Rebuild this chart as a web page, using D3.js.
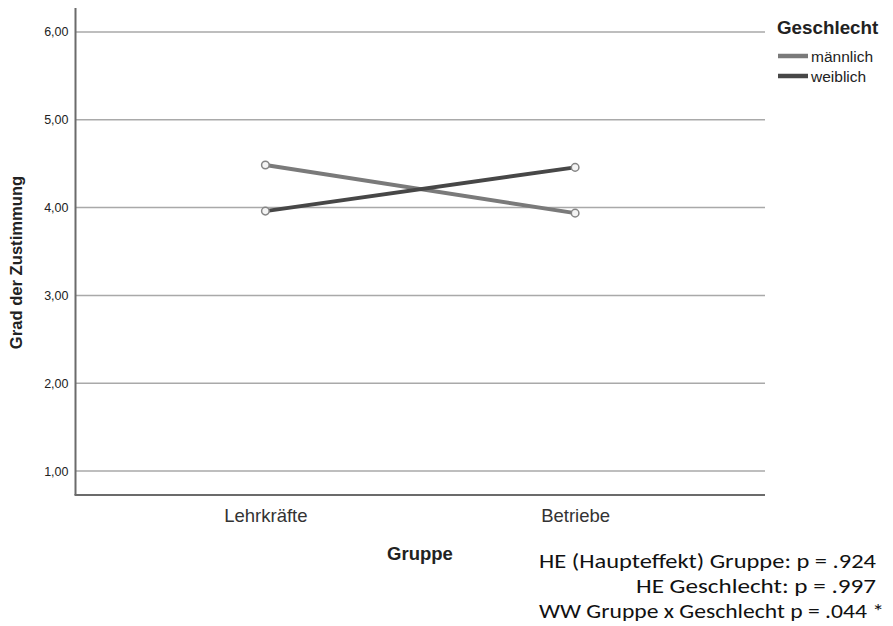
<!DOCTYPE html>
<html><head><meta charset="utf-8">
<script src="https://cdn.jsdelivr.net/npm/d3@7"></script>
<style>body{margin:0;background:#fff;} svg{display:block;}</style>
</head><body>
<svg id="chart" width="893" height="626"></svg>
<script>
const categories = ["Lehrkräfte", "Betriebe"];
const seriesNames = ["männlich", "weiblich"];
const maennlich = [4.485, 3.937];
const weiblich = [3.96, 4.458];
const yTicks = [1, 2, 3, 4, 5, 6];
const notes = ["HE (Haupteffekt) Gruppe: p = .924", "HE Geschlecht: p = .997", "WW Gruppe x Geschlecht p = .044 *"];

const series = [
  {name: seriesNames[0], values: maennlich, color: "#7a7a7a"},
  {name: seriesNames[1], values: weiblich, color: "#474747"}
];

const svg = d3.select("#chart");
const L = 75.5, R = 765, T = 8, B = 495;
const y = d3.scaleLinear().domain([0.727, 6.273]).range([B, T]);
const x = d3.scalePoint().domain(categories).range([L, R]).padding(0.613);
const font = "Arial, 'Liberation Sans', sans-serif";

// gridlines
svg.append("g").selectAll("line").data(yTicks).join("line")
  .attr("x1", L).attr("x2", R)
  .attr("y1", d => y(d)).attr("y2", d => y(d))
  .attr("stroke", "#a9a9a9").attr("stroke-width", 1.5);

// y axis via d3
const yAxis = d3.axisLeft(y).tickValues(yTicks).tickSize(0).tickPadding(7)
  .tickFormat(d => d3.format(".2f")(d).replace(".", ","));
const ga = svg.append("g").attr("transform", `translate(${L},0)`).call(yAxis);
ga.select(".domain").remove();
ga.selectAll("text").attr("font-family", font).attr("font-size", 12.5).attr("fill", "#222");

// x axis
const xAxis = d3.axisBottom(x).tickSize(0).tickPadding(14);
const gx = svg.append("g").attr("transform", `translate(0,${B})`).call(xAxis);
gx.select(".domain").remove();
gx.selectAll("text").attr("font-family", font).attr("font-size", 18.5).attr("fill", "#333");

// axis lines
svg.append("line").attr("x1", L).attr("x2", L).attr("y1", T).attr("y2", B)
  .attr("stroke", "#6b6b6b").attr("stroke-width", 2);
svg.append("line").attr("x1", L - 1).attr("x2", R).attr("y1", B).attr("y2", B)
  .attr("stroke", "#6b6b6b").attr("stroke-width", 2);

// lines
const line = d3.line().x((d, i) => x(categories[i])).y(d => y(d));
series.forEach(s => {
  svg.append("path").attr("d", line(s.values)).attr("fill", "none")
    .attr("stroke", s.color).attr("stroke-width", 4);
});
series.forEach(s => {
  svg.append("g").selectAll("circle").data(s.values).join("circle")
    .attr("cx", (d, i) => x(categories[i])).attr("cy", d => y(d)).attr("r", 3.8)
    .attr("fill", "#f4f4f4").attr("stroke", "#858585").attr("stroke-width", 1.5);
});

// axis titles
svg.append("text").attr("transform", `translate(22,262.5) rotate(-90)`)
  .attr("text-anchor", "middle").attr("font-family", font).attr("font-weight", "bold")
  .attr("font-size", 16.6).attr("fill", "#222").text("Grad der Zustimmung");
svg.append("text").attr("x", 420).attr("y", 560).attr("text-anchor", "middle")
  .attr("font-family", font).attr("font-weight", "bold").attr("font-size", 18.5)
  .attr("fill", "#222").text("Gruppe");

// legend
svg.append("text").attr("x", 777).attr("y", 34).attr("font-family", font)
  .attr("font-weight", "bold").attr("font-size", 18.8).attr("fill", "#222").text("Geschlecht");
const lg = svg.append("g").selectAll("g").data(series).join("g")
  .attr("transform", (d, i) => `translate(778,${56 + i * 20})`);
lg.append("line").attr("x1", 0).attr("x2", 30).attr("y1", 0).attr("y2", 0)
  .attr("stroke", d => d.color).attr("stroke-width", 4.5);
lg.append("text").attr("x", 33).attr("y", 5.5).attr("font-family", font)
  .attr("font-size", 15.5).attr("fill", "#222").text(d => d.name);

// notes
const nf = "Carlito, Calibri, 'Liberation Sans', sans-serif";
svg.append("text").attr("x", 539).attr("y", 568).attr("font-family", nf).attr("font-size", 20)
  .attr("fill", "#111").attr("textLength", 337).attr("lengthAdjust", "spacingAndGlyphs").text(notes[0]);
svg.append("text").attr("x", 636).attr("y", 593).attr("font-family", nf).attr("font-size", 20)
  .attr("fill", "#111").attr("textLength", 240).attr("lengthAdjust", "spacingAndGlyphs").text(notes[1]);
svg.append("text").attr("x", 539).attr("y", 618).attr("font-family", nf).attr("font-size", 20)
  .attr("fill", "#111").attr("textLength", 345).attr("lengthAdjust", "spacingAndGlyphs").text(notes[2]);
</script>
</body></html>
